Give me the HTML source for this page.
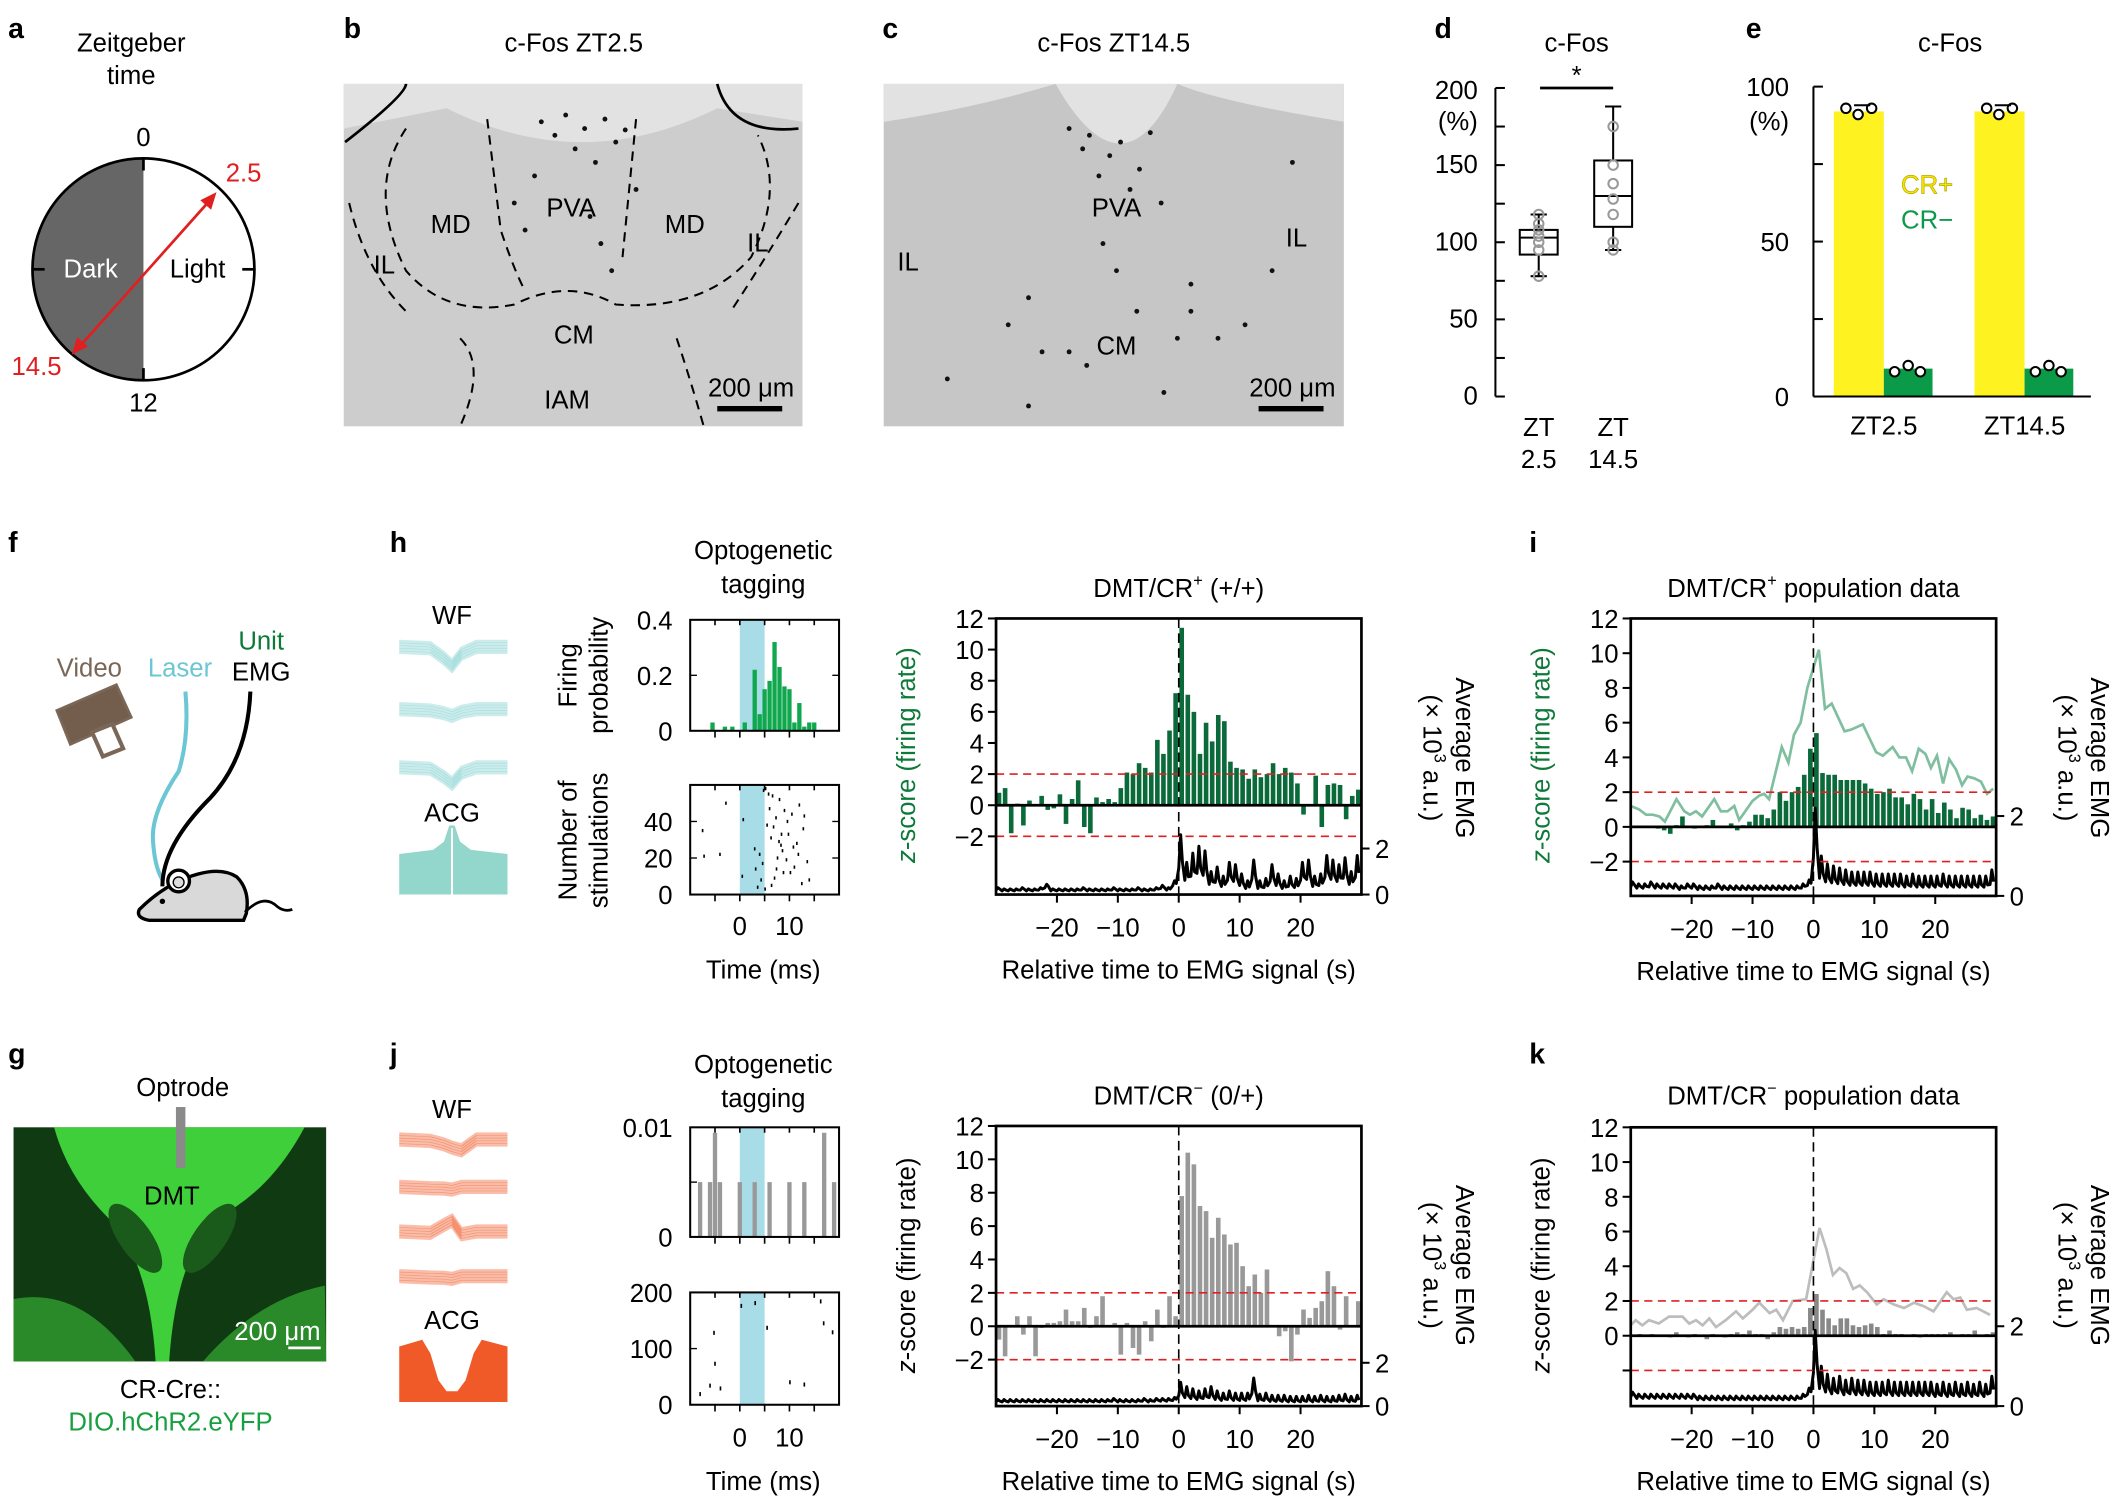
<!DOCTYPE html>
<html><head><meta charset="utf-8"><style>
html,body{margin:0;padding:0;background:#fff;}
svg{display:block;font-family:"Liberation Sans",Arial,sans-serif;}
.t{font-size:19px;fill:#000;}
.tk{font-size:19px;fill:#000;}
.pl{font-size:21px;font-weight:bold;fill:#000;}
</style></head><body>
<svg id="fig" xmlns="http://www.w3.org/2000/svg" width="2122" height="1503" viewBox="0 0 1568 1110.6">
<rect x="0" y="0" width="1568" height="1111" fill="#fff"/>
<g>
<text class="pl" x="6" y="28">a</text><text class="pl" x="254" y="28">b</text><text class="pl" x="652" y="28">c</text>
<text class="pl" x="1060" y="28">d</text><text class="pl" x="1290" y="28">e</text><text class="pl" x="6" y="408">f</text>
<text class="pl" x="288" y="408">h</text><text class="pl" x="1130" y="408">i</text><text class="pl" x="6" y="786">g</text>
<text class="pl" x="288" y="786">j</text><text class="pl" x="1130" y="786">k</text>
</g>
<g>
<text class="t" x="97" y="38" text-anchor="middle">Zeitgeber</text>
<text class="t" x="97" y="62" text-anchor="middle">time</text>
<path d="M106,117 A82,82 0 0 0 106,281 Z" fill="#666"/>
<circle cx="106" cy="199" r="82" fill="none" stroke="#000" stroke-width="2"/>
<line x1="106" y1="117" x2="106" y2="126" stroke="#000" stroke-width="2"/>
<line x1="106" y1="272" x2="106" y2="281" stroke="#000" stroke-width="2"/>
<line x1="179" y1="199" x2="188" y2="199" stroke="#000" stroke-width="2"/>
<line x1="24" y1="199" x2="33" y2="199" stroke="#000" stroke-width="2"/>
<text class="t" x="106" y="108" text-anchor="middle">0</text>
<text class="t" x="106" y="304" text-anchor="middle">12</text>
<text class="t" x="67" y="205" text-anchor="middle" style="fill:#fff">Dark</text>
<text class="t" x="146" y="205" text-anchor="middle">Light</text>
<line x1="58" y1="257" x2="156" y2="147" stroke="#e02020" stroke-width="2"/>
<path d="M160,142 L148,148 L156,155 Z" fill="#e02020"/>
<path d="M53,262 L57,249 L65,256 Z" fill="#e02020"/>
<text class="t" x="180" y="134" text-anchor="middle" style="fill:#e02020">2.5</text>
<text class="t" x="27" y="277" text-anchor="middle" style="fill:#e02020">14.5</text>
</g>
<g>
<text class="t" x="424" y="38" text-anchor="middle">c-Fos ZT2.5</text>
<rect x="254" y="62" width="339" height="253" fill="#cdcdcd"/>
<path d="M254,62 L593,62 L593,90 L530,80 Q430,130 330,80 L254,95 Z" fill="#e2e2e2"/>
<path d="M255,105 Q300,70 300,62" fill="none" stroke="#000" stroke-width="2"/>
<path d="M530,62 Q540,100 590,95" fill="none" stroke="#000" stroke-width="2"/>
<g fill="none" stroke="#000" stroke-width="1.5" stroke-dasharray="7,5">
<path d="M300,95 Q270,140 300,200 Q330,235 380,225 Q420,205 455,225 Q520,230 555,190 Q580,140 560,100"/>
<path d="M360,88 L370,170 Q380,200 388,215"/>
<path d="M470,88 L460,190"/>
<path d="M258,150 Q270,200 300,230"/>
<path d="M590,150 Q560,200 540,230"/>
<path d="M340,250 Q360,270 340,315"/>
<path d="M500,250 Q510,280 520,315"/>
</g>
<text class="t" x="333" y="172" text-anchor="middle">MD</text>
<text class="t" x="422" y="160" text-anchor="middle">PVA</text>
<text class="t" x="506" y="172" text-anchor="middle">MD</text>
<text class="t" x="284" y="202" text-anchor="middle">IL</text>
<text class="t" x="560" y="186" text-anchor="middle">IL</text>
<text class="t" x="424" y="254" text-anchor="middle">CM</text>
<text class="t" x="419" y="302" text-anchor="middle">IAM</text>
<text class="t" x="555" y="293" text-anchor="middle">200 μm</text>
<rect x="530" y="300" width="48" height="4" fill="#000"/>
</g>
<g>
<text class="t" x="823" y="38" text-anchor="middle">c-Fos ZT14.5</text>
<rect x="653" y="62" width="340" height="253" fill="#c6c6c6"/>
<path d="M653,62 L993,62 L993,90 Q900,75 870,62 Q830,150 780,62 Q720,80 653,90 Z" fill="#e2e2e2"/>
<text class="t" x="825" y="160" text-anchor="middle">PVA</text>
<text class="t" x="671" y="200" text-anchor="middle">IL</text>
<text class="t" x="958" y="182" text-anchor="middle">IL</text>
<text class="t" x="825" y="262" text-anchor="middle">CM</text>
<text class="t" x="955" y="293" text-anchor="middle">200 μm</text>
<rect x="930" y="300" width="48" height="4" fill="#000"/>
</g>
<g id="dots"></g>
<g id="pd">
<text class="t" x="1165" y="38" text-anchor="middle">c-Fos</text>
<text class="tk" x="1092" y="96" text-anchor="end">(%)</text>
<text class="tk" x="1137" y="322" text-anchor="middle">ZT</text><text class="tk" x="1137" y="346" text-anchor="middle">2.5</text>
<text class="tk" x="1192" y="322" text-anchor="middle">ZT</text><text class="tk" x="1192" y="346" text-anchor="middle">14.5</text>
<line x1="1138" y1="65" x2="1192" y2="65" stroke="#000" stroke-width="2"/>
<text class="t" x="1165" y="62" text-anchor="middle">*</text>
</g>
<g id="pe">
<text class="t" x="1441" y="38" text-anchor="middle">c-Fos</text>
<text class="tk" x="1322" y="96" text-anchor="end">(%)</text>
</g>
<g>
<text class="t" x="66" y="500" text-anchor="middle" style="fill:#7a6757">Video</text>
<text class="t" x="133" y="500" text-anchor="middle" style="fill:#6cc6d4">Laser</text>
<text class="t" x="193" y="480" text-anchor="middle" style="fill:#0e7a3a">Unit</text>
<text class="t" x="193" y="503" text-anchor="middle">EMG</text>
<path d="M42,525 L86,506 L97,530 L52,550 Z" fill="#735e4e" stroke="#7a6757" stroke-width="2"/>
<path d="M68,541 L83,535 L91,553 L76,559 Z" fill="#fff" stroke="#7a6757" stroke-width="3"/>
<path d="M137,511 Q140,545 132,570 Q112,600 113,620 Q114,640 120,650" fill="none" stroke="#6cc6d4" stroke-width="3"/>
<path d="M185,511 Q183,560 155,590 Q120,625 120,655" fill="none" stroke="#000" stroke-width="3"/>
<path d="M103,672 Q115,660 130,652 Q160,638 175,648 Q185,658 182,675 L180,680 L110,680 Q100,678 103,672 Z" fill="#d9d9d9" stroke="#000" stroke-width="2.5"/>
<circle cx="132" cy="651" r="8" fill="#fff" stroke="#000" stroke-width="2.5"/>
<circle cx="132" cy="652" r="4" fill="#ddd" stroke="#000" stroke-width="1"/>
<circle cx="120" cy="666" r="2" fill="#000"/>
<path d="M181,674 Q195,660 205,670 Q210,674 216,672" fill="none" stroke="#000" stroke-width="2"/>
</g>
<g>
<rect x="10" y="833" width="231" height="173" fill="#103a12"/>
<path d="M40,833 L225,833 Q200,880 160,900 Q130,930 125,1006 L115,1006 Q110,930 80,900 Q50,870 40,833 Z" fill="#3fcf3a"/>
<path d="M10,960 Q60,950 100,1006 L10,1006 Z" fill="#2a8a2a"/>
<path d="M240,950 Q190,960 150,1006 L241,1006 Z" fill="#2a8a2a"/>
<ellipse cx="100" cy="915" rx="12" ry="30" transform="rotate(-35 100 915)" fill="#1a5a1a"/>
<ellipse cx="155" cy="915" rx="12" ry="30" transform="rotate(35 155 915)" fill="#1a5a1a"/>
<rect x="130" y="818" width="7" height="45" fill="#8a8a8a"/>
<text class="t" x="135" y="810" text-anchor="middle">Optrode</text>
<text class="t" x="127" y="890" text-anchor="middle">DMT</text>
<text class="t" x="205" y="990" text-anchor="middle" style="fill:#fff">200 μm</text>
<rect x="213" y="995" width="24" height="2" fill="#fff"/>
<text class="t" x="126" y="1033" text-anchor="middle">CR-Cre::</text>
<text class="t" x="126" y="1057" text-anchor="middle" style="fill:#18a040">DIO.hChR2.eYFP</text>
</g>
<g id="wf">
<text class="t" x="334" y="461" text-anchor="middle">WF</text>
<text class="t" x="334" y="607" text-anchor="middle">ACG</text>
<text class="t" x="334" y="826" text-anchor="middle">WF</text>
<text class="t" x="334" y="982" text-anchor="middle">ACG</text>
</g>
<text class="t" x="564" y="413" text-anchor="middle">Optogenetic</text>
<text class="t" x="564" y="438" text-anchor="middle">tagging</text>
<text class="t" x="564" y="793" text-anchor="middle">Optogenetic</text>
<text class="t" x="564" y="818" text-anchor="middle">tagging</text>
<text class="t" transform="translate(426,499) rotate(-90)" text-anchor="middle">Firing</text>
<text class="t" transform="translate(449,499) rotate(-90)" text-anchor="middle">probability</text>
<text class="t" transform="translate(426,621) rotate(-90)" text-anchor="middle">Number of</text>
<text class="t" transform="translate(449,621) rotate(-90)" text-anchor="middle">stimulations</text>
<text class="t" x="564" y="723" text-anchor="middle">Time (ms)</text>
<text class="t" x="564" y="1101" text-anchor="middle">Time (ms)</text>
<g id="tag"></g>
<text class="t" x="871" y="441" text-anchor="middle">DMT/CR<tspan font-size="12" dy="-8">+</tspan><tspan dy="8"> (+/+)</tspan></text>
<text class="t" x="1340" y="441" text-anchor="middle">DMT/CR<tspan font-size="12" dy="-8">+</tspan><tspan dy="8"> population data</tspan></text>
<text class="t" x="871" y="816" text-anchor="middle">DMT/CR<tspan font-size="12" dy="-8">−</tspan><tspan dy="8"> (0/+)</tspan></text>
<text class="t" x="1340" y="816" text-anchor="middle">DMT/CR<tspan font-size="12" dy="-8">−</tspan><tspan dy="8"> population data</tspan></text>
<g id="main"></g>
</svg>
<script>
const dCats = ["ZT2.5","ZT14.5"];
const dMin = [78, 95], dQ1 = [92, 110], dMed = [103, 130], dQ3 = [108, 153], dMax = [118, 188];
const dPts0 = [78, 95, 100, 104, 108, 112, 118];
const dPts1 = [95, 100, 118, 128, 138, 150, 175];
const dTicks = [0, 50, 100, 150, 200];
const eCats = ["ZT2.5","ZT14.5"];
const eCRpos = [92, 92];
const eCRneg = [9, 9];
const eTicks = [0, 50, 100];
const hTagBins = [-5.5,-3,-1.5,1,3,4,5,6,7,8,9,10,11,12,13,14,15];
const hTagVals = [0.03,0.015,0.015,0.03,0.22,0.06,0.15,0.18,0.32,0.23,0.16,0.15,0.03,0.1,0.015,0.03,0.03];
const hRasT = [-7.5,-7.2,-4,-2.8,0.5,0.7,3,3.2,3.6,4,4.3,4.6,5.2,5.5,6,6.3,6.6,7,7.3,7.6,8,8.3,8.6,9,9.4,9.8,10.2,10.5,11,11.5,12,12.5,13,13.6,14,5.1,5.8,6.8,7.9,8.8,9.6,10.8,11.8,6.4,7.4,8.4,4.8,12.8];
const hRasN = [35,21,22,50,10,41,25,14,4,22,8,17,58,38,47,31,54,9,42,20,52,27,24,46,19,33,12,44,15,28,49,6,43,18,8,3,55,37,29,12,40,26,22,5,14,33,57,36];
const jTagBins = [-8,-6,-5,-4,0,3,6,10,13,17,19];
const jTagVals = [0.005,0.005,0.0095,0.005,0.005,0.005,0.005,0.005,0.005,0.0095,0.005];
const jRasT = [-8,-6,-5,-5.2,-3.9,0.3,3.1,5.5,10.1,13,16.3,16.9,18.7];
const jRasN = [19,34,73,128,29,176,181,137,40,36,184,145,129];
const tBins = Array.from({length:60},(_,i)=>i-30);
const hBars = [0.8,1.1,-1.8,0.1,-1.3,0.3,0,0.6,-0.3,-0.2,0.7,-1.2,0.4,1.6,-1.4,-1.8,0.5,0.2,0.4,0.2,1.1,2.1,2.0,2.7,2.4,2.1,4.2,3.3,4.8,7.2,11.4,7.1,6.0,3.3,5.3,4.1,5.8,5.4,2.8,2.4,2.3,1.7,2.3,1.8,2.0,2.7,2.0,2.4,2.1,1.4,-0.6,0,1.9,-1.4,1.3,1.4,1.3,-0.9,0.6,1.0];
const hEmg = [0.3,0.25,0.25,0.25,0.3,0.25,0.25,0.3,0.45,0.25,0.25,0.25,0.25,0.25,0.3,0.25,0.25,0.25,0.25,0.3,0.25,0.25,0.25,0.3,0.25,0.25,0.3,0.4,0.3,0.6,2.6,1.4,1.8,2.1,1.9,1.0,1.2,0.8,1.4,1.3,0.9,0.6,1.5,0.6,0.7,1.3,0.9,0.6,0.8,0.7,1.4,1.5,0.8,0.9,1.7,1.5,1.3,1.6,1.0,1.7];
const iBars = [0.05,0,0.05,0,-0.1,-0.2,-0.4,0.1,0.6,0,-0.1,0,0.1,0.4,0,0,0.2,-0.2,0.1,0.3,0.7,0.7,0.5,1.0,2.0,1.5,2.0,2.3,3.0,4.5,5.4,3.1,3.0,3.0,2.7,2.7,2.7,2.7,2.5,2.2,1.9,2.0,2.2,1.7,1.7,1.3,1.9,1.6,1.0,1.6,0.8,1.4,1.0,0.5,1.1,1.0,0.5,0.7,0.4,0.6];
const iLineT = [-30,-28.6,-27.5,-26.4,-25.3,-24.4,-22.5,-21.2,-20.3,-19.3,-18.3,-16.3,-15.2,-14.1,-13,-12.2,-10,-8.9,-8.1,-7.3,-5.2,-4.1,-3.2,-2.1,-1,0.9,1.9,3,5.1,6.2,8.1,10.3,11.4,13,14.1,15.2,16.2,17.3,18.4,19.3,20.3,21.3,22.3,23.4,24.4,25.3,26.4,27.5,28.5,29.5];
const iLineV = [1.2,1.0,0.7,0.7,0.6,0.3,1.6,0.9,0.7,0.9,0.6,1.6,0.9,0.9,1.2,0.4,1.5,1.8,1.9,1.6,4.6,3.7,5.3,6.0,8.0,10.2,6.8,7.1,5.5,5.6,5.9,4.3,4.1,4.6,4.0,4.0,3.2,4.5,4.2,3.4,4.1,2.5,3.9,3.3,2.4,2.9,2.8,2.6,1.9,2.2];
const iEmg = [0.35,0.3,0.3,0.35,0.3,0.3,0.3,0.3,0.25,0.3,0.3,0.25,0.25,0.25,0.3,0.25,0.25,0.25,0.25,0.25,0.25,0.25,0.25,0.25,0.25,0.25,0.25,0.25,0.3,0.4,2.2,1.0,0.8,0.75,0.7,0.65,0.6,0.6,0.6,0.6,0.55,0.55,0.55,0.55,0.55,0.5,0.55,0.5,0.5,0.5,0.5,0.55,0.5,0.5,0.5,0.5,0.5,0.5,0.5,0.65];
const jBars = [-0.8,-1.8,0,0.6,-0.5,0.6,-1.8,-0.1,0.2,0.2,0.3,1,0.3,0.3,1.1,-0.1,0.6,1.8,0,0.2,-1.7,0.2,-1.3,-1.7,0.3,-0.9,1,-0.1,1.8,0.6,7.8,10.4,9.7,7.2,6.9,5.3,6.5,5.5,4.9,5.0,3.6,2.4,3.1,2.0,3.4,0,-0.6,-0.3,-2.1,-0.5,1,0.5,1.1,1.5,3.3,2.4,-0.2,1.8,0,1.5];
const jEmg = [0.3,0.3,0.3,0.3,0.3,0.3,0.3,0.3,0.3,0.3,0.3,0.3,0.3,0.3,0.3,0.3,0.3,0.3,0.3,0.35,0.3,0.3,0.3,0.3,0.35,0.3,0.35,0.35,0.35,0.4,1.1,0.9,0.8,0.7,0.8,0.9,0.7,0.6,0.7,0.6,0.6,0.6,1.3,0.55,0.6,0.5,0.5,0.5,0.45,0.45,0.45,0.5,0.45,0.5,0.45,0.45,0.5,0.55,0.45,0.5];
const kBars = [0.05,0.1,0,0.1,0.05,0,-0.1,0.2,0,-0.1,0.1,0,-0.2,0.1,0,-0.1,0.1,0.2,0.1,0.3,0.1,0.1,-0.2,0.2,0.5,0.4,0.5,0.4,0.5,1.6,2.4,1.5,1.0,0.6,1.0,1.0,0.6,0.5,0.6,0.7,0.5,0.1,0.3,0.1,0.1,0,0.1,-0.1,0.1,0.1,0.1,0.1,0.2,0,0.1,0.1,0.3,0,0.1,0.2];
const kLineT = [-30,-29.2,-28.1,-27,-25.4,-23.7,-21.5,-20.4,-19.3,-18.2,-17.1,-16,-14.4,-12.7,-11.6,-10,-8.9,-7.2,-6.1,-5,-3.4,-1.2,1,2.1,3.2,4.3,5.4,6.5,7.6,8.8,10.4,11.5,13.2,14.9,16.5,18.1,19.7,21.9,23,24.1,25.2,26.8,29];
const kLineV = [0.6,0.9,0.6,0.9,0.7,1.1,1.1,0.7,0.9,0.6,1.0,0.5,0.9,1.4,1.0,1.5,1.9,1.3,1.5,0.9,2.0,2.1,6.2,5.0,3.5,3.9,3.6,2.7,2.9,2.5,1.8,2.1,1.8,1.6,1.9,1.7,1.4,2.5,2.1,2.2,1.5,1.6,1.2];
const kEmg = [0.35,0.3,0.3,0.3,0.3,0.3,0.3,0.3,0.3,0.3,0.3,0.25,0.25,0.25,0.25,0.25,0.25,0.25,0.25,0.25,0.25,0.25,0.25,0.25,0.25,0.25,0.25,0.25,0.3,0.45,1.9,1.0,0.8,0.7,0.75,0.65,0.7,0.65,0.65,0.6,0.6,0.6,0.65,0.6,0.6,0.6,0.6,0.6,0.6,0.6,0.55,0.6,0.55,0.6,0.55,0.6,0.55,0.6,0.55,0.75];
const zTicks = [-2,0,2,4,6,8,10,12];
const xTicks = [-20,-10,0,10,20];
const cellX = [400,410,418,425,432,440,447,455,462,395,470,380,388,436,444,452,790,800,805,812,820,828,835,842,850,858,815,825,840,760,880,790,803,870,920,700,760,770,745,860,880,900,940,955];
const cellY = [90,100,85,110,95,120,88,105,96,130,140,150,170,160,180,200,95,110,100,130,115,105,140,125,98,150,180,200,230,220,210,260,270,250,240,280,300,260,240,290,230,250,200,120];
const NS = "http://www.w3.org/2000/svg";
function mk(tag, attrs, parent){ const e=document.createElementNS(NS,tag); for(const k in attrs) e.setAttribute(k,attrs[k]); parent.appendChild(e); return e; }
function lin(d0,d1,r0,r1){ return v => r0 + (v-d0)*(r1-r0)/(d1-d0); }
function txt(parent,x,y,s,anchor,cls,fill){ const e=mk('text',{x:x,y:y,'text-anchor':anchor||'middle','class':cls||'tk'},parent); if(fill) e.setAttribute('style','fill:'+fill); e.textContent=s; return e; }

const dots=document.getElementById('dots');
cellX.forEach((x,i)=>{ const c=mk('circle',{cx:x,cy:cellY[i],r:1.8,fill:'#111'},dots);

 });

(function(){
 const g=document.getElementById('pd');
 const y=lin(0,200,293,65); const xs=[1137,1192];
 mk('line',{x1:1105,y1:y(0),x2:1105,y2:y(200),stroke:'#000','stroke-width':1.5},g);
 for(let v=0;v<=200;v+=25){ mk('line',{x1:1105,y1:y(v),x2:1112,y2:y(v),stroke:'#000','stroke-width':1.5},g); }
 dTicks.forEach(v=>{ txt(g,1092,y(v)+(v==200?8:6),String(v),'end'); });
 const pts=[dPts0,dPts1];
 dCats.forEach((c,i)=>{
  const x=xs[i];
  const w=mk('line',{x1:x,y1:y(dMin[i]),x2:x,y2:y(dMax[i]),stroke:'#000','stroke-width':1.5},g);
  
  
  mk('line',{x1:x-6,y1:y(dMin[i]),x2:x+6,y2:y(dMin[i]),stroke:'#000','stroke-width':1.5},g);
  mk('line',{x1:x-6,y1:y(dMax[i]),x2:x+6,y2:y(dMax[i]),stroke:'#000','stroke-width':1.5},g);
  const b=mk('rect',{x:x-14,y:y(dQ3[i]),width:28,height:y(dQ1[i])-y(dQ3[i]),fill:'#fff',stroke:'#000','stroke-width':1.5},g);
  
  
  mk('line',{x1:x-14,y1:y(dMed[i]),x2:x+14,y2:y(dMed[i]),stroke:'#000','stroke-width':1.5},g);
  pts[i].forEach(v=>{ const p=mk('circle',{cx:x,cy:y(v),r:3.5,fill:'none',stroke:'#999','stroke-width':1.5},g);
   
    });
 });
})();
(function(){
 const g=document.getElementById('pe');
 const y=lin(0,100,293,64); const xc=[1392,1496];
 mk('line',{x1:1340,y1:y(0),x2:1340,y2:y(100),stroke:'#000','stroke-width':1.5},g);
 for(let v=0;v<=100;v+=25) mk('line',{x1:1340,y1:y(v),x2:1347,y2:y(v),stroke:'#000','stroke-width':1.5},g);
 eTicks.forEach(v=>txt(g,1322,y(v)+7,String(v),'end'));
 eCats.forEach((c,i)=>{
  const a=mk('rect',{x:xc[i]-37,y:y(eCRpos[i]),width:37,height:y(0)-y(eCRpos[i]),fill:'#fff221'},g);
  
  
  const b=mk('rect',{x:xc[i],y:y(eCRneg[i]),width:36,height:y(0)-y(eCRneg[i]),fill:'#0a9a48'},g);
  
  
  [-28,-19,-9].forEach((dx,k)=>mk('circle',{cx:xc[i]+dx,cy:y(eCRpos[i]+(k==1?-1:1)),r:3.5,fill:'#fff',stroke:'#000','stroke-width':1.5},g));
  [8,18,27].forEach((dx,k)=>mk('circle',{cx:xc[i]+dx,cy:y(eCRneg[i]+(k==1?1:-1)),r:3.5,fill:'#fff',stroke:'#000','stroke-width':1.5},g));
  mk('line',{x1:xc[i]-22,y1:y(eCRpos[i]+2),x2:xc[i]-10,y2:y(eCRpos[i]+2),stroke:'#000','stroke-width':1.5},g);
  txt(g,xc[i],321,c,'middle','tk');
 });
 mk('line',{x1:1340,y1:y(0),x2:1545,y2:y(0),stroke:'#000','stroke-width':1.5},g);
 const t1=txt(g,1424,143,'CR+','middle','t','#f5e600'); t1.setAttribute('stroke','#b8a800'); t1.setAttribute('stroke-width','0.5');
 txt(g,1424,169,'CR−','middle','t','#0a9a48');
})();
(function(){
 const g=document.getElementById('wf');
 function wave(y0,depth,color,rebound){
  for(let k=0;k<5;k++){
   const off=(k-2)*2;
   const d=`M295,${y0+off} L318,${y0+off+1} L328,${y0+off+depth*0.6} L334,${y0+off+depth} L341,${y0+off-rebound} L352,${y0+off} L375,${y0+off}`;
   mk('path',{d:d,fill:'none',stroke:color,'stroke-width':2.5,opacity:0.4},g);
  }
 }
 wave(478,14,'#7fcfcf',-5); wave(524,5,'#7fcfcf',-2); wave(567,12,'#7fcfcf',-4);
 wave(842,6,'#f05a28',-8); wave(877,2,'#f05a28',0); wave(910,-8,'#f05a28',-2); wave(943,2,'#f05a28',0);
 mk('path',{d:'M295,661 L295,631 L320,628 L328,622 L332,610 L336,610 L340,622 L348,628 L375,631 L375,661 Z',fill:'#93d6cc'},g);
 mk('line',{x1:334,y1:612,x2:334,y2:661,stroke:'#fff','stroke-width':1.5},g);
 mk('path',{d:'M295,1036 L295,995 L312,990 L318,1000 L324,1020 L330,1028 L338,1028 L344,1020 L350,1000 L356,990 L375,995 L375,1036 Z',fill:'#f05a28'},g);
})();
(function(){
 const g=document.getElementById('tag');
 const x=lin(-10,20,510,620);
 function frame(y0,y1){
  mk('rect',{x:510,y:y0,width:110,height:y1-y0,fill:'none',stroke:'#000','stroke-width':1.5},g);
  [-5,0,5,10,15].forEach(t=>{ mk('line',{x1:x(t),y1:y0,x2:x(t),y2:y0+4,stroke:'#000','stroke-width':1.2},g); mk('line',{x1:x(t),y1:y1,x2:x(t),y2:y1+5,stroke:'#000','stroke-width':1.2},g); });
 }
 function blue(y0,y1){ const b=mk('rect',{x:x(0),y:y0,width:x(5)-x(0),height:y1-y0,fill:'#a8dde8'},g);
  
   }
 let y=lin(0,0.4,540,458);
 blue(458,540);
 hTagBins.forEach((t,i)=>{ const r=mk('rect',{x:x(t)-1.6,y:y(hTagVals[i]),width:3.2,height:y(0)-y(hTagVals[i]),fill:'#0fa84e'},g);
  
   });
 frame(458,540);
 [0,0.2,0.4].forEach(v=>{ txt(g,497,y(v)+7,String(v),'end'); mk('line',{x1:510,y1:y(v),x2:515,y2:y(v),stroke:'#000'},g); mk('line',{x1:615,y1:y(v),x2:620,y2:y(v),stroke:'#000'},g);});
 y=lin(0,60,661,580);
 blue(580,661);
 hRasT.forEach((t,i)=>{ const r=mk('rect',{x:x(t)-0.6,y:y(hRasN[i])-1.2,width:1.2,height:2.4,fill:'#000'},g);
  
   });
 frame(580,661);
 [0,20,40].forEach(v=>{ txt(g,497,y(v)+7,String(v),'end'); mk('line',{x1:510,y1:y(v),x2:515,y2:y(v),stroke:'#000'},g); mk('line',{x1:615,y1:y(v),x2:620,y2:y(v),stroke:'#000'},g);});
 txt(g,x(0),691,'0'); txt(g,x(10),691,'10');
 y=lin(0,0.01,914,833);
 blue(833,914);
 jTagBins.forEach((t,i)=>{ const r=mk('rect',{x:x(t)-1.6,y:y(jTagVals[i]),width:3.2,height:y(0)-y(jTagVals[i]),fill:'#999'},g);
  
   });
 frame(833,914);
 txt(g,497,y(0.01)+7,'0.01','end'); txt(g,497,y(0)+7,'0','end');
 mk('line',{x1:510,y1:y(0.005),x2:515,y2:y(0.005),stroke:'#000'},g);
 y=lin(0,200,1038,955);
 blue(955,1038);
 jRasT.forEach((t,i)=>{ const r=mk('rect',{x:x(t)-0.6,y:y(jRasN[i])-1.5,width:1.2,height:3,fill:'#000'},g);
  
   });
 frame(955,1038);
 [0,100,200].forEach(v=>{ txt(g,497,y(v)+7,String(v),'end'); mk('line',{x1:510,y1:y(v),x2:515,y2:y(v),stroke:'#000'},g);});
 txt(g,x(0),1069,'0'); txt(g,x(10),1069,'10');
})();
function psth(cfg){
 const g=mk('g',{},document.getElementById('main'));
 
 
 const x=lin(-30,30,cfg.x0,cfg.x1);
 const yz=lin(0,12,cfg.zy0,cfg.zy12);
 const ye=lin(0,2,cfg.ey0,cfg.ey2);
 const bw=(x(1)-x(0));
 cfg.bars.forEach((v,i)=>{
  const t=tBins[i]; const top=Math.min(yz(v),yz(0)); const h=Math.abs(yz(v)-yz(0));
  const r=mk('rect',{x:x(t)+0.5,y:top,width:bw-1.1,height:Math.max(h,0.3),fill:cfg.barColor},g);
  
  
 });
 if(cfg.lineT){
  const d=cfg.lineT.map((t,i)=>(i?'L':'M')+x(t).toFixed(1)+','+yz(cfg.lineV[i]).toFixed(1)).join(' ');
  const l=mk('path',{d:d,fill:'none',stroke:cfg.lineColor,'stroke-width':2},g);
  
  
 }
 let d='';
 cfg.emg.forEach((v,i)=>{
  const t=tBins[i]; const base=t<0?v*0.8:v*0.55;
  d+=(i?'L':'M')+x(t).toFixed(1)+','+ye(base*0.8).toFixed(1)+' L'+x(t+0.3).toFixed(1)+','+ye(v).toFixed(1)+' L'+x(t+0.6).toFixed(1)+','+ye(base).toFixed(1)+' ';
 });
 const e=mk('path',{d:d,fill:'none',stroke:'#000','stroke-width':2.2,'stroke-linejoin':'round'},g);
 
 
 [2,-2].forEach(v=>mk('line',{x1:cfg.x0,y1:yz(v),x2:cfg.x1,y2:yz(v),stroke:'#e02020','stroke-width':1.2,'stroke-dasharray':'6,4'},g));
 mk('line',{x1:x(0),y1:cfg.top,x2:x(0),y2:cfg.bot,stroke:'#000','stroke-width':1.2,'stroke-dasharray':'7,4'},g);
 mk('line',{x1:cfg.x0,y1:yz(0),x2:cfg.x1,y2:yz(0),stroke:'#000','stroke-width':2},g);
 mk('rect',{x:cfg.x0,y:cfg.top,width:cfg.x1-cfg.x0,height:cfg.bot-cfg.top,fill:'none',stroke:'#000','stroke-width':2},g);
 zTicks.forEach(v=>{ if(yz(v)<cfg.top-1) return;
  mk('line',{x1:cfg.x0-6,y1:yz(v),x2:cfg.x0,y2:yz(v),stroke:'#000','stroke-width':1.5},g);
  if(v>=0||cfg.showNeg) txt(g,cfg.x0-9,yz(v)+7,v<0?'−'+(-v):String(v),'end'); });
 xTicks.forEach(v=>{ mk('line',{x1:x(v),y1:cfg.bot,x2:x(v),y2:cfg.bot+6,stroke:'#000','stroke-width':1.5},g);
  txt(g,x(v),cfg.bot+31,v<0?'−'+(-v):String(v),'middle'); });
 [0,2].forEach(v=>{ mk('line',{x1:cfg.x1,y1:ye(v),x2:cfg.x1+6,y2:ye(v),stroke:'#000','stroke-width':1.5},g);
  txt(g,cfg.x1+10,ye(v)+7,String(v),'start'); });
 txt(g,(cfg.x0+cfg.x1)/2,cfg.bot+62,'Relative time to EMG signal (s)','middle','t');
 const yl=mk('text',{transform:`translate(${cfg.x0-60},${cfg.ylabY}) rotate(-90)`,'text-anchor':'middle','class':'t'},g);
 yl.setAttribute('style','fill:'+cfg.labColor);
 yl.innerHTML='<tspan font-style="italic">z</tspan>-score (firing rate)';
 const r1=mk('text',{transform:`translate(${cfg.x1+70},${cfg.rlabY}) rotate(90)`,'text-anchor':'middle','class':'t'},g);
 r1.textContent='Average EMG';
 const r2=mk('text',{transform:`translate(${cfg.x1+46},${cfg.rlabY}) rotate(90)`,'text-anchor':'middle','class':'t'},g);
 r2.innerHTML='(× 10<tspan font-size="12" dy="-8">3</tspan><tspan dy="8"> a.u.)</tspan>';
}
psth({name:'psth-dmt-crpos-unit',x0:736,x1:1006,zy0:595,zy12:457,ey0:661,ey2:627,top:457,bot:661,bars:hBars,barColor:'#0b6a39',emg:hEmg,labColor:'#0e7a3a',ylabY:558,rlabY:560,showNeg:true});
psth({name:'psth-dmt-crpos-population',x0:1205,x1:1475,zy0:611,zy12:457,ey0:662,ey2:603,top:457,bot:662,bars:iBars,barColor:'#0b6a39',lineT:iLineT,lineV:iLineV,lineColor:'#7fbfa0',emg:iEmg,labColor:'#0e7a3a',ylabY:558,rlabY:560,showNeg:true});
psth({name:'psth-dmt-crneg-unit',x0:736,x1:1006,zy0:980,zy12:832,ey0:1039,ey2:1007,top:832,bot:1039,bars:jBars,barColor:'#999',emg:jEmg,labColor:'#000',ylabY:935,rlabY:935,showNeg:true});
psth({name:'psth-dmt-crneg-population',x0:1205,x1:1475,zy0:987,zy12:833,ey0:1039,ey2:980,top:833,bot:1039,bars:kBars,barColor:'#888',lineT:kLineT,lineV:kLineV,lineColor:'#bdbdbd',emg:kEmg,labColor:'#000',ylabY:935,rlabY:935,showNeg:false});
</script>
</body></html>
